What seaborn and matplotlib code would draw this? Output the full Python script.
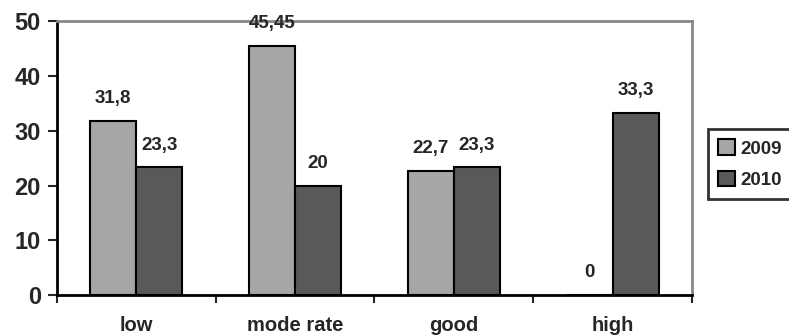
import pandas as pd
import matplotlib.pyplot as plt
import seaborn as sns

# Chart data
categories = ["low", "mode rate", "good", "high"]
years = ["2009", "2010"]
values_2009 = [31.8, 45.45, 22.7, 0]
values_2010 = [23.3, 20, 23.3, 33.3]
labels_2009 = ["31,8", "45,45", "22,7", "0"]
labels_2010 = ["23,3", "20", "23,3", "33,3"]

data = pd.DataFrame({
    "category": categories * 2,
    "year": [years[0]] * 4 + [years[1]] * 4,
    "value": values_2009 + values_2010,
})

sns.set_style("white")
plt.rcParams["font.family"] = ["Liberation Sans", "DejaVu Sans"]
plt.rcParams["font.weight"] = "bold"

fig = plt.figure(figsize=(7.89, 3.35), dpi=100)
ax = fig.add_axes([0.0722, 0.119, 0.8048, 0.818])

sns.barplot(
    data=data, x="category", y="value", hue="year",
    palette=["#a6a6a6", "#595959"], order=categories, hue_order=years,
    width=0.58, edgecolor="black", linewidth=1.5, ax=ax,
)

# Data labels
for cont, labs in zip(ax.containers, [labels_2009, labels_2010]):
    ax.bar_label(cont, labels=labs, padding=10, fontsize=13.5, fontweight="bold")

ax.set_ylim(0, 50)
ax.set_xlim(-0.5, 3.5)
ax.set_yticks([0, 10, 20, 30, 40, 50])
ax.set_xlabel("")
ax.set_ylabel("")

ax.tick_params(axis="y", which="major", direction="out", length=6.5, width=1.5,
               labelsize=17, left=True, pad=5)
ax.tick_params(axis="x", which="major", length=0, labelsize=14.5, pad=15)
ax.set_xticks([-0.5, 0.5, 1.5, 2.5, 3.5], minor=True)
ax.tick_params(axis="x", which="minor", direction="out", length=6, width=1.5,
               bottom=True)
for lab in ax.get_xticklabels() + ax.get_yticklabels():
    lab.set_fontweight("bold")

for side in ["left", "bottom"]:
    ax.spines[side].set_color("black")
    ax.spines[side].set_linewidth(2)
for side in ["top", "right"]:
    ax.spines[side].set_color("#888888")
    ax.spines[side].set_linewidth(2)

leg = ax.legend(
    loc="upper left", bbox_to_anchor=(0.8973, 0.615), bbox_transform=fig.transFigure,
    frameon=True, fancybox=False, edgecolor="black", fontsize=13.5,
    handlelength=0.9, handleheight=0.9, handletextpad=0.27, labelspacing=0.7,
    borderpad=0.55, borderaxespad=0,
)
leg.get_frame().set_linewidth(2)
for t in leg.get_texts():
    t.set_fontweight("bold")

plt.savefig("out.png", dpi=100)
